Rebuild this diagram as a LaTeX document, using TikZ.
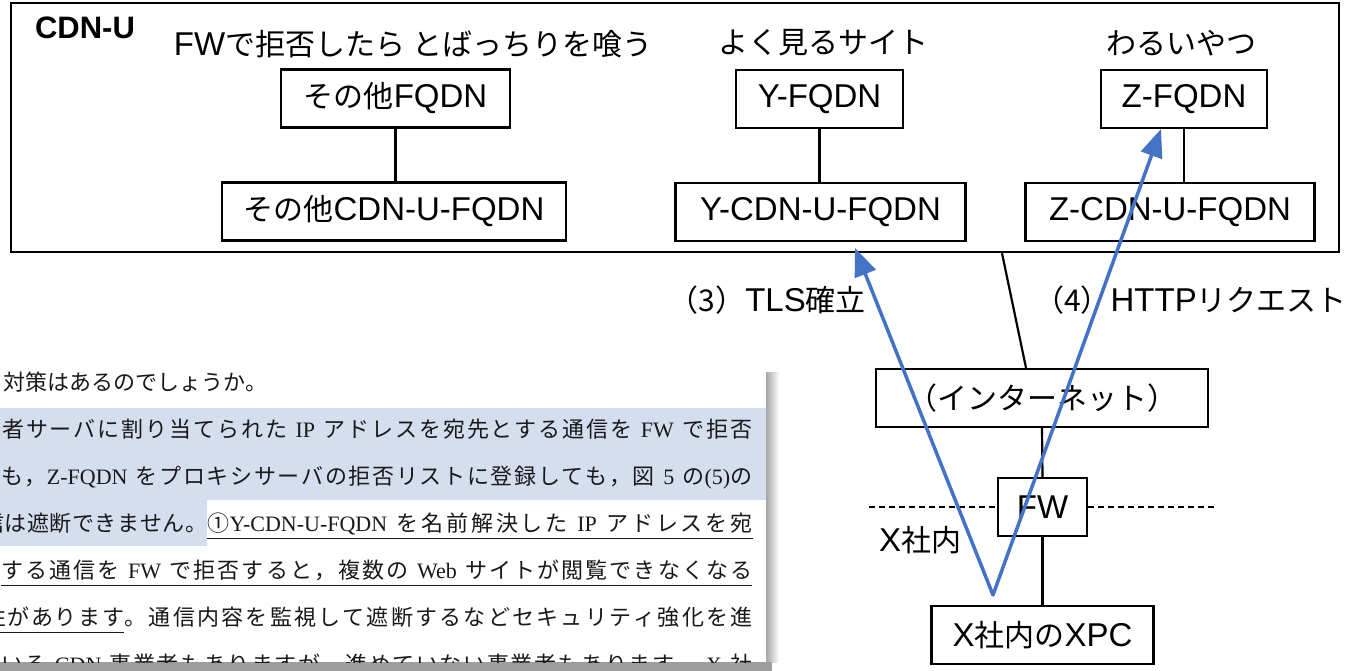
\documentclass[tikz,border=0pt]{standalone}
\usepackage{fontspec}
\setmainfont{Liberation Sans}
\newfontfamily\jp{Noto Sans CJK JP}
\newfontfamily\ser{Liberation Serif}
\usetikzlibrary{arrows.meta,calc}

\definecolor{flowblue}{HTML}{4472C4}
\definecolor{marker}{RGB}{213,222,239}
\definecolor{ink}{RGB}{25,25,25}

% character class for Japanese text, so that justified lines can spread
\chardef\jpcls=50
\newcount\jpcc
\def\jprange#1#2{\jpcc=#1\relax
  \loop\XeTeXcharclass\jpcc=\jpcls\relax\advance\jpcc by 1\relax\ifnum\jpcc<#2\relax\repeat}
\jprange{"3000}{"3100}
\jprange{"4E00}{"A000}
\jprange{"FF00}{"FF61}
\jprange{"2460}{"2500}
\XeTeXinterchartoks\jpcls\jpcls={\hskip0pt plus 1fil\relax}
\newcommand\spreadon{\XeTeXinterchartokenstate=1\relax}

\newcommand\J[1]{{\jp\fontsize{30}{36}\selectfont #1}}
\newcommand\gap{\hskip .3em plus 1fil\relax}
\newcommand\lat[1]{\gap{\ser #1}\gap}

\tikzset{
  box/.style={draw, line width=2.2pt, inner sep=0pt, minimum height=58pt,
    font=\fontsize{33}{40}\selectfont},
  lbl/.style={inner sep=0pt, font=\fontsize{33}{40}\selectfont},
  link/.style={line width=2.2pt},
  flow/.style={draw=flowblue, line width=3.5pt, line join=round,
    arrows={Triangle[length=28pt,width=22pt]-Triangle[length=28pt,width=22pt]}},
  doc/.style={inner sep=0pt, anchor=base west, text=ink,
    font={\jp\fontsize{22}{26}\selectfont\spreadon}},
  uline/.style={line width=1.4pt, draw=ink}
}

\begin{document}
\begin{tikzpicture}[x=1pt,y=-1pt]
\useasboundingbox (0,0) rectangle (1357,671);

% CDN-U area
\node[draw, line width=2.2pt, minimum width=1328pt, minimum height=249pt,
  inner sep=0pt, anchor=north west] (cdnu) at (10,2) {};
\node[inner sep=0pt, font=\bfseries\fontsize{31}{36}\selectfont] (tag) at (85,28) {CDN-U};

\node[lbl] (cap1) at (413,44) {FW\J{で拒否したら とばっちりを喰う}};
\node[lbl] (cap2) at (823,43) {\J{よく見るサイト}};
\node[lbl] (cap3) at (1181,43) {\J{わるいやつ}};

\node[box, minimum width=229pt] (ofqdn) at (395.5,98.5) {\J{その他}FQDN};
\node[box, minimum width=344pt] (ocdn) at (394,211.5) {\J{その他}CDN-U-FQDN};
\node[box, minimum width=167pt] (yfqdn) at (819.5,99) {Y-FQDN};
\node[box, minimum width=290pt] (ycdn) at (820.5,212) {Y-CDN-U-FQDN};
\node[box, minimum width=166pt] (zfqdn) at (1184,99) {Z-FQDN};
\node[box, minimum width=289pt] (zcdn) at (1170,212) {Z-CDN-U-FQDN};

% network path
\node[box, minimum width=332pt] (inet) at (1042,398) {\J{（インターネット）}};
\node[box, minimum width=89pt] (fw) at (1042.5,507) {FW};
\node[box, minimum width=222pt] (xpc) at (1042.5,635) {X\J{社内の}XPC};

\node[lbl, anchor=east] (l3) at (866,300) {\J{（3）}TLS\J{確立}};
\node[lbl, anchor=east] (l4) at (1347,300) {\J{（4）}HTTP\J{リクエスト}};
\node[lbl] (inside) at (920,540) {X\J{社内}};

\draw[link] (ofqdn.south) -- (ofqdn.south |- ocdn.north);
\draw[link] (yfqdn.south) -- (yfqdn.south |- ycdn.north);
\draw[link] (zfqdn.south) -- (zfqdn.south |- zcdn.north);
\coordinate (cdnfoot) at ($(cdnu.south west)+(992,0)$);
\draw[link] (cdnfoot) -- ([xshift=-16pt]inet.north);
\draw[link] (inet.south) -- (fw.north);
\draw[link] (fw.south) -- (xpc.north);

\coordinate (bl) at (869,507);
\coordinate (br) at (1215,507);
\draw[line width=1.3pt, dash pattern=on 6pt off 4pt] (bl) -- (fw.west) (fw.east) -- (br);

% request flow from the PC
\coordinate (pc) at (993,595);
\coordinate (tlsend) at (855,248);
\coordinate (httpend) at (1161,129);
\draw[flow] (tlsend) -- (pc) -- (httpend);

% quoted page
\begin{scope}
  \shade[left color=black!35, right color=white] (766,372) rectangle (779,662);
  \fill[black!38] (0,662) rectangle (772,671);
  \fill[white] (0,366) rectangle (766,662);
  \fill[marker] (0,408) rectangle (766,500);
  \fill[marker] (0,500) rectangle (207,546);
  \clip (0,366) rectangle (766,662);
  \node[doc] (d1) at (3,390.3) {対策はあるのでしょうか。};
  \node[doc] (d2) at (2,437.3) {\hbox to 750pt{者サーバに割り当てられた\lat{IP}アドレスを宛先とする通信を\lat{FW}で拒否}};
  \node[doc] (d3) at (1,484.3) {\hbox to 751pt{も，{\ser Z-FQDN}\gap をプロキシサーバの拒否リストに登録しても，図\lat{5}の{\ser (5)}の}};
  \node[doc] (d4a) at (-18,531.3) {\hbox to 225pt{信は遮断できません。}};
  \node[doc] (d4b) at (d4a.base east) {\hbox to 545pt{①{\ser Y-CDN-U-FQDN}\gap を名前解決した\lat{IP}アドレスを宛}};
  \node[doc] (d5) at (1,578.3) {\hbox to 751pt{する通信を\lat{FW}で拒否すると，複数の\lat{Web}サイトが閲覧できなくなる}};
  \node[doc] (d6a) at (-16,625.3) {\hbox to 140pt{性があります}};
  \node[doc] (d6b) at (d6a.base east) {\hbox to 628pt{。通信内容を監視して遮断するなどセキュリティ強化を進}};
  \node[doc] (d7) at (1,672.3) {\hbox to 751pt{いる\lat{CDN}事業者もありますが，進めていない事業者もあります。\lat{X}社}};
  \draw[uline] ([yshift=-7pt]d4b.base west) -- ([yshift=-7pt]d4b.base east);
  \draw[uline] ([yshift=-7pt]d5.base west) -- ([yshift=-7pt]d5.base east);
  \draw[uline] ([yshift=-7pt]d6a.base west) -- ([yshift=-7pt]d6a.base east);
\end{scope}
\end{tikzpicture}
\end{document}
